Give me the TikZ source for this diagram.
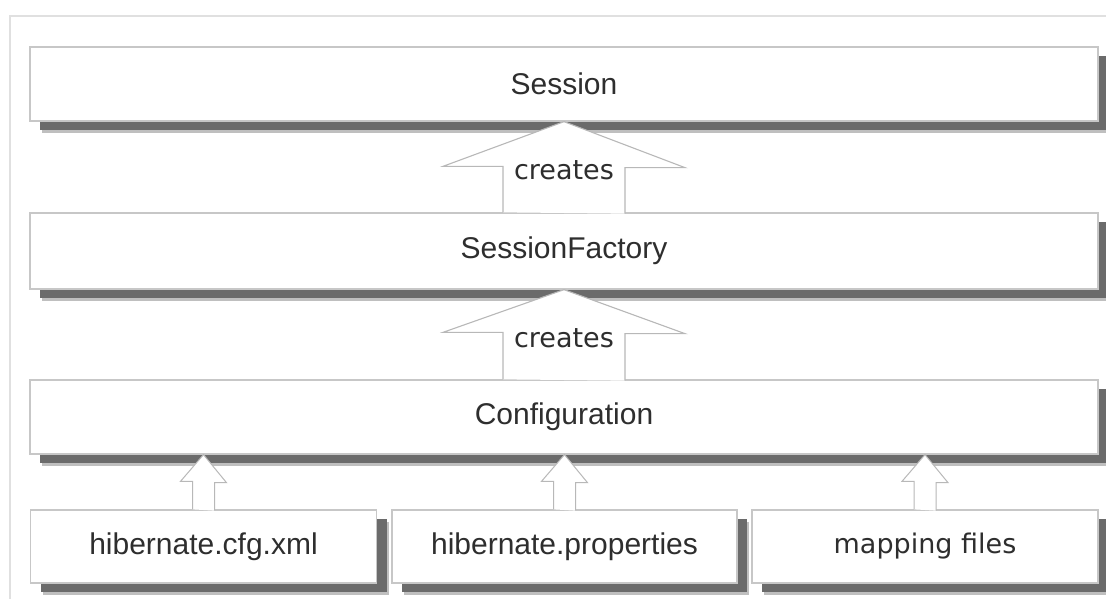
\documentclass[tikz,border=0pt]{standalone}
\usepackage{fontspec}
\setmainfont{Liberation Sans}
\newfontfamily\labelfont{DejaVu Sans}
\usetikzlibrary{shadows}

\begin{document}
\begin{tikzpicture}[x=1pt,y=-1pt,
  frameline/.style={draw=black!12, line width=2pt},
  box/.style={draw=black!22, line width=1.3pt, fill=white, inner sep=0pt,
    minimum height=74pt, text=black!82,
    font=\fontsize{30}{36}\selectfont,
    drop shadow={shadow xshift=12pt, shadow yshift=-12pt, fill=black!25, opacity=1},
    drop shadow={shadow xshift=10pt, shadow yshift=-9pt, fill=black!58, opacity=1}},
  widebox/.style={box, minimum width=1068pt},
  filebox/.style={box, minimum width=346pt, minimum height=73pt},
  blockarrow/.style={draw=black!28, line width=1.1pt, fill=white, line join=miter},
  arrowlabel/.style={inner sep=0pt, text=black!82,
    font=\labelfont\fontsize{27}{32}\selectfont}
]
\useasboundingbox (0,0) rectangle (1106,599);

% light frame around the drawing area
\draw[frameline] (10,599) -- (10,16) -- (1106,16);

% layers
\node[widebox] (sess) at (564,84) {Session};
\node[widebox, minimum height=76pt] (sf) at (564,251) {SessionFactory};
\node[widebox] (conf) at (564,417) {Configuration};

% configuration sources
\node[filebox] (cfg) at (203.5,546.5) {hibernate.cfg.xml};
\node[filebox, minimum width=345pt] (props) at (564.5,546.5) {hibernate.properties};
\node[filebox, font=\labelfont\fontsize{27}{32}\selectfont] (map) at (925,546.5) {mapping files};

% SessionFactory creates Session
\draw[blockarrow] ([xshift=-61pt]sf.north) -- ++(0,-46) -- ++(-60,0)
  -- (sess.south) -- ++(121,46) -- ++(-60,0) -- ++(0,46);
\node[arrowlabel] (cr1) at (564,170) {creates};

% Configuration creates SessionFactory
\draw[blockarrow] ([xshift=-61pt]conf.north) -- ++(0,-47) -- ++(-60,0)
  -- (sf.south) -- ++(121,44) -- ++(-60,0) -- ++(0,47);
\node[arrowlabel] (cr2) at (564,338) {creates};

% sources feed the Configuration
\foreach \src in {cfg, props, map} {
  \draw[blockarrow, line width=1pt] ([xshift=-11pt]\src.north) -- ++(0,-28) -- ++(-12,0)
    -- (\src.north |- conf.south) -- ++(23,28) -- ++(-12,0) -- ++(0,28);
}
\end{tikzpicture}
\end{document}
